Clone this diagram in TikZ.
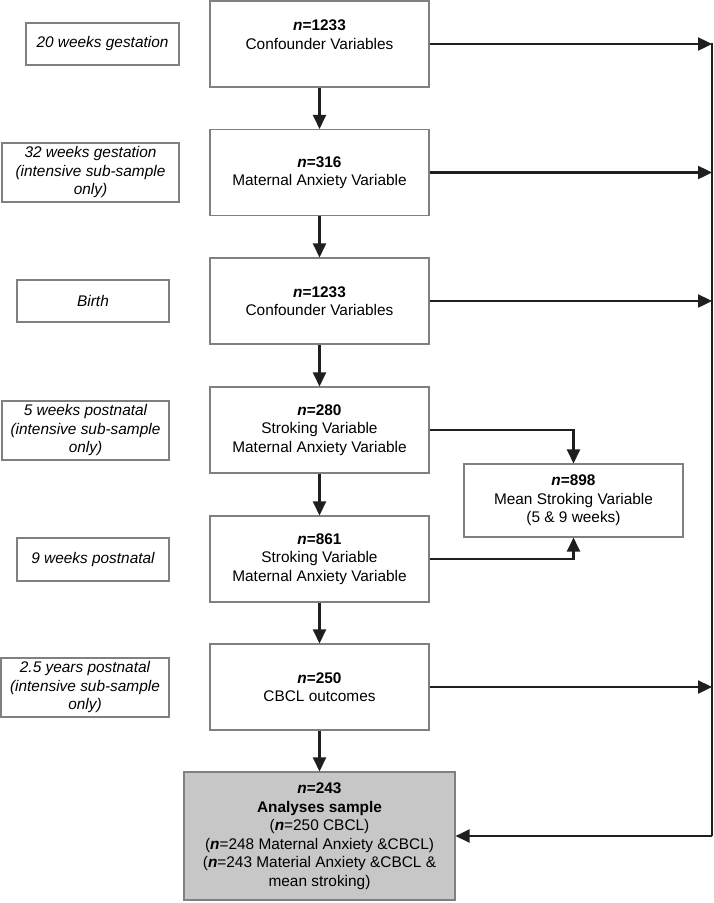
\documentclass[tikz,border=0pt]{standalone}
\usepackage{fontspec}
\setmainfont{Liberation Sans}
\usetikzlibrary{arrows.meta}

\begin{document}
\begin{tikzpicture}[x=1pt, y=-1pt,
      class/.style={rectangle, draw=black!50, line width=1.1pt, align=center, inner sep=2pt, font=\fontsize{15.4}{18.5}\selectfont},
      stage/.style={class, minimum width=219pt, minimum height=86pt},
      period/.style={class, font=\fontsize{15.4}{18.5}\selectfont\itshape},
      flow/.style={-{Triangle[length=14pt,width=13pt]}, line width=2.4pt, black!88},
      ]
      \useasboundingbox (0,0) rectangle (714,903);

      \node[stage] (C20) at (319.5,44) {\textbf{\textit{n}=1233}\\Confounder Variables\\\mbox{}};
      \node[stage] (MA32) at (319.5,172.5) {\textbf{\textit{n}=316}\\Maternal Anxiety Variable};
      \node[stage] (CB) at (319.5,301) {\textbf{\textit{n}=1233}\\Confounder Variables};
      \node[stage] (SM5) at (319.5,430) {\textbf{\textit{n}=280}\\Stroking Variable\\Maternal Anxiety Variable};
      \node[stage] (SM9) at (319.5,559) {\textbf{\textit{n}=861}\\Stroking Variable\\Maternal Anxiety Variable};
      \node[stage] (CB25) at (319.5,687) {\textbf{\textit{n}=250}\\CBCL outcomes};
      \node[class, fill=black!22, minimum width=271pt, minimum height=128pt] (AS) at (319.5,836)
        {\textbf{\textit{n}=243}\\\textbf{Analyses sample}\\(\textbf{\textit{n}}=250 CBCL)\\(\textbf{\textit{n}}=248 Maternal Anxiety \&CBCL)\\(\textbf{\textit{n}}=243 Material Anxiety \&CBCL \&\\mean stroking)};
      \node[class, minimum width=219pt, minimum height=73pt] (MS) at (573.5,500.5) {\textbf{\textit{n}=898}\\Mean Stroking Variable\\(5 \& 9 weeks)};

      \node[period, minimum width=153pt, minimum height=42pt] (T20) at (102.5,44) {20 weeks gestation};
      \node[period, minimum width=177pt, minimum height=59pt] (T32) at (90.5,172.5) {32 weeks gestation\\(intensive sub-sample\\only)};
      \node[period, minimum width=152pt, minimum height=42pt] (TB) at (93,301) {Birth};
      \node[period, minimum width=167pt, minimum height=59pt] (T5) at (85.5,430.5) {5 weeks postnatal\\(intensive sub-sample\\only)};
      \node[period, minimum width=152pt, minimum height=43pt] (T9) at (93,559.5) {9 weeks postnatal};
      \node[period, minimum width=168pt, minimum height=59pt] (T25) at (85,687.5) {2.5 years postnatal\\(intensive sub-sample\\only)};

      \draw[flow] (C20) -- (MA32);
      \draw[flow] (MA32) -- (CB);
      \draw[flow] (CB) -- (SM5);
      \draw[flow] (SM5) -- (SM9);
      \draw[flow] (SM9) -- (CB25);
      \draw[flow] (CB25) -- (AS);

      \draw[flow] (SM5.east) -| (MS.north);
      \draw[flow] (SM9.east) -| (MS.south);

      % rail on the right
      \coordinate (RT) at (712,43);
      \coordinate (RB) at (712,836);
      \draw[line width=2.4pt, black!88] (RT) -- (RB);
      \draw[flow] (C20.east) -- (C20.east -| RT);
      \draw[flow] (MA32.east) -- (MA32.east -| RT);
      \draw[flow] (CB.east) -- (CB.east -| RT);
      \draw[flow] (CB25.east) -- (CB25.east -| RT);
      \draw[flow] (RB) -- (AS.east);
    \end{tikzpicture}
\end{document}
